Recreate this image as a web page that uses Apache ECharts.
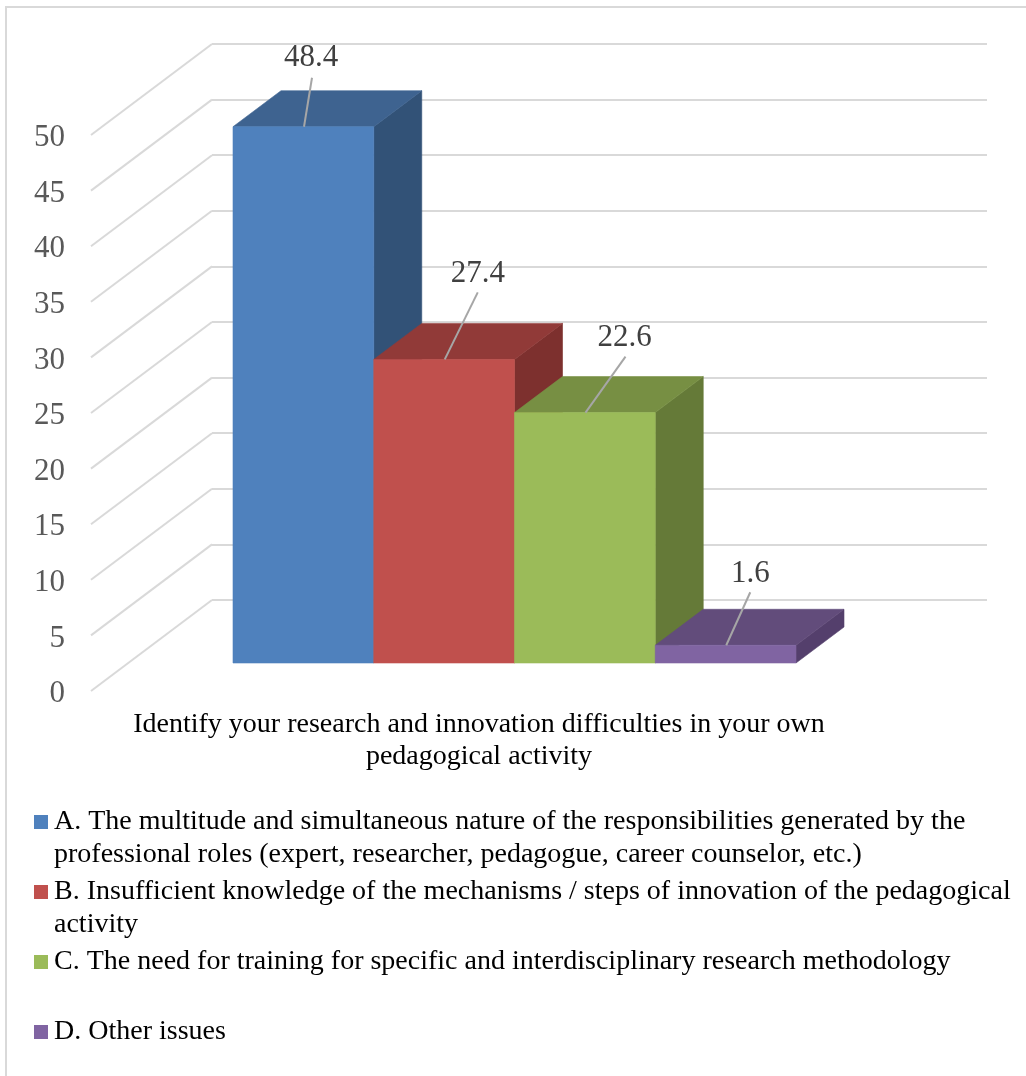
<!DOCTYPE html>
<html>
<head>
<meta charset="utf-8">
<title>Research and innovation difficulties</title>
<script src="https://cdn.jsdelivr.net/npm/echarts@6/dist/echarts.min.js"></script>
<style>
  html, body { margin: 0; padding: 0; background: #fff; }
  #chart { width: 1026px; height: 1076px; }
</style>
</head>
<body>
<div id="chart"></div>
<script>
// Survey responses, in percent
const answers = [
  'A. The multitude and simultaneous nature of the responsibilities generated by the\nprofessional roles (expert, researcher, pedagogue, career counselor, etc.)',
  'B. Insufficient knowledge of the mechanisms / steps of innovation of the pedagogical\nactivity',
  'C. The need for training for specific and interdisciplinary research methodology',
  'D. Other issues'
];
const shares = [48.4, 27.4, 22.6, 1.6];
const axisTicks = [0, 5, 10, 15, 20, 25, 30, 35, 40, 45, 50];
const question = 'Identify your research and innovation difficulties in your own\npedagogical activity';

// Face shades for each column: front, top, side
const faceColors = [
  ['#4f81bd', '#3e6390', '#325277'],
  ['#c0504d', '#913a38', '#7d302e'],
  ['#9bbb59', '#778f43', '#657a38'],
  ['#8064a2', '#624c7b', '#543f6c']
];
// Leader-line end and label centre, relative to the anchor on each column's top edge
const calloutShift = [
  { anchor: 71, line: [8, -49], text: [7, -68.5] },
  { anchor: 71, line: [33, -67], text: [33, -85.5] },
  { anchor: 71, line: [40, -56], text: [39, -74.5] },
  { anchor: 71, line: [24, -53], text: [24, -71.5] }
];

const SERIF = '"Liberation Serif", "Times New Roman", serif';
const COLUMN_DEPTH = [48, -36];
const WALL_DEPTH = [121, -91];
const GRID_COLOR = '#d9d9d9';

const chart = echarts.init(document.getElementById('chart'), null, { renderer: 'canvas' });

// One extruded column: side, top, front, then the value callout above them
function renderColumn(params, api) {
  const i = api.value(0);
  const base = api.coord([i, 0]);
  const head = api.coord([i, api.value(1)]);
  const band = api.size([1, 0])[0];
  const x0 = base[0] - band / 2;
  const x1 = base[0] + band / 2;
  const [dx, dy] = COLUMN_DEPTH;
  const [front, top, side] = faceColors[i];
  const callout = calloutShift[i];
  const ax = x0 + callout.anchor;
  const ay = head[1];
  return {
    type: 'group',
    children: [
      { type: 'polygon', shape: { points: [[x1, head[1]], [x1 + dx, head[1] + dy], [x1 + dx, base[1] + dy], [x1, base[1]]] }, style: { fill: side, stroke: side, lineWidth: 0.6 } },
      { type: 'polygon', shape: { points: [[x0, head[1]], [x0 + dx, head[1] + dy], [x1 + dx, head[1] + dy], [x1, head[1]]] }, style: { fill: top, stroke: top, lineWidth: 0.6 } },
      { type: 'rect', shape: { x: x0, y: head[1], width: band, height: base[1] - head[1] }, style: { fill: front, stroke: front, lineWidth: 0.6 } },
      { type: 'line', shape: { x1: ax, y1: ay, x2: ax + callout.line[0], y2: ay + callout.line[1] }, style: { stroke: '#a6a6a6', lineWidth: 2 } },
      { type: 'text', x: ax + callout.text[0], y: ay + callout.text[1], style: { text: String(api.value(1)), fill: '#404040', font: '31px ' + SERIF, align: 'center', verticalAlign: 'middle' } }
    ]
  };
}

// Receding floor and wall lines joining the front axis to the back wall
function renderDepthLine(params, api) {
  const y = api.coord([0, api.value(1)])[1];
  const x = params.coordSys.x;
  return {
    type: 'line',
    shape: { x1: x, y1: y, x2: x + WALL_DEPTH[0], y2: y + WALL_DEPTH[1] },
    style: { stroke: GRID_COLOR, lineWidth: 2 }
  };
}

const columnSeries = answers.map((name, i) => ({
  name,
  type: 'custom',
  xAxisIndex: 2,
  yAxisIndex: 2,
  clip: false,
  z: 5 + i,
  itemStyle: { color: faceColors[i][0] },
  encode: { x: 0, y: 1 },
  data: [[i, shares[i]]],
  renderItem: renderColumn
}));

// Second lines of the two-line legend entries
const continuationLines = answers
  .map((name, i) => ({ row: i, text: name.split('\n')[1] }))
  .filter(entry => entry.text)
  .map(entry => ({
    type: 'text',
    left: 54,
    top: 841 + entry.row * 70,
    style: { text: entry.text, fill: '#000', font: '28px ' + SERIF }
  }));

chart.setOption({
  animation: false,
  backgroundColor: '#fff',
  grid: [
    { left: 212, top: 44, width: 775, height: 556 },     // back wall
    { left: 91, top: 135, width: 776, height: 556 },     // front axis plane
    { left: 233, top: 109, width: 563, height: 554 }     // column plane
  ],
  xAxis: [
    { gridIndex: 0, type: 'category', show: false, data: [''] },
    {
      gridIndex: 1, type: 'category', data: [question],
      axisLine: { show: false }, axisTick: { show: false },
      axisLabel: { color: '#000', fontFamily: SERIF, fontSize: 28, lineHeight: 32, margin: 18, interval: 0 }
    },
    { gridIndex: 2, type: 'category', show: false, data: answers.map((_, i) => i) }
  ],
  yAxis: [
    {
      gridIndex: 0, type: 'value', min: 0, max: 50, interval: 5,
      axisLine: { show: false }, axisTick: { show: false }, axisLabel: { show: false },
      splitLine: { show: true, lineStyle: { color: GRID_COLOR, width: 2 } }
    },
    {
      gridIndex: 1, type: 'value', min: 0, max: 50, interval: 5,
      axisLine: { show: false }, axisTick: { show: false }, splitLine: { show: false },
      axisLabel: { color: '#595959', fontFamily: SERIF, fontSize: 31, margin: 26, verticalAlign: 'top', lineHeight: 6 }
    },
    {
      gridIndex: 2, type: 'value', min: 0, max: 50, interval: 5, show: false,
      splitLine: { show: false }
    }
  ],
  legend: {
    orient: 'vertical',
    left: 34,
    top: 806,
    padding: 0,
    itemWidth: 14,
    itemHeight: 14,
    itemGap: 38,
    icon: 'rect',
    selectedMode: false,
    data: answers,
    formatter: name => name.split('\n')[0],
    textStyle: { color: '#000', fontFamily: SERIF, fontSize: 28, lineHeight: 28, padding: [4, 0, 0, 1] }
  },
  graphic: [
    { type: 'polyline', silent: true, shape: { points: [[6, 1076], [6, 7], [1026, 7]] }, style: { stroke: GRID_COLOR, lineWidth: 2, fill: null } },
    ...continuationLines
  ],
  series: [
    {
      name: 'depth lines',
      type: 'custom',
      xAxisIndex: 1,
      yAxisIndex: 1,
      clip: false,
      z: 1,
      encode: { y: 1 },
      data: axisTicks.map(t => [0, t]),
      renderItem: renderDepthLine
    },
    ...columnSeries
  ]
});
</script>
</body>
</html>
